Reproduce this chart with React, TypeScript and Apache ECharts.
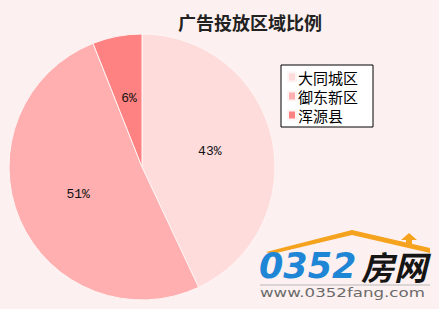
import React, { useEffect, useRef } from "react";
import * as echarts from "echarts";

const title = "广告投放区域比例";
const regions = ["大同城区", "御东新区", "浑源县"];
const shares = [43, 51, 6];
const sliceColors = ["#FFDCDC", "#FFAFAF", "#FF8282"];
const siteUrl = "www.0352fang.com";

export default function App() {
  const ref = useRef<HTMLDivElement>(null);

  useEffect(() => {
    document.body.style.margin = "0";
    const chart = echarts.init(ref.current!, null, { renderer: "svg" });

    chart.setOption({
      animation: false,
      backgroundColor: "#FDF0F0",
      title: {
        text: title,
        left: 245,
        top: 8,
        textAlign: "center",
        textStyle: {
          fontFamily: "Noto Sans CJK SC",
          fontSize: 18,
          fontWeight: "bold",
          color: "#222",
        },
      },
      legend: {
        orient: "vertical",
        left: 281,
        top: 65,
        padding: [4, 15, 4, 6],
        itemGap: 3,
        itemWidth: 8,
        itemHeight: 9,
        icon: "rect",
        backgroundColor: "#ffffff",
        borderColor: "#000000",
        borderWidth: 1,
        borderRadius: 0,
        data: regions,
        textStyle: {
          fontFamily: "Noto Sans CJK SC",
          fontSize: 15,
          lineHeight: 16,
          color: "#000",
          padding: [0, 0, 0, -3],
        },
      },
      series: [
        {
          type: "pie",
          center: [142, 167],
          radius: [0, 133],
          startAngle: 90,
          clockwise: true,
          color: sliceColors,
          itemStyle: { borderColor: "#FFF4F4", borderWidth: 1 },
          label: {
            show: true,
            position: "inner",
            formatter: "{c}%",
            fontFamily: "Liberation Mono",
            fontSize: 13,
            color: "#111",
          },
          labelLine: { show: false },
          emphasis: { disabled: true },
          data: regions.map((name, i) => ({ name, value: shares[i] })),
        },
      ],
      graphic: [
        {
          type: "polygon",
          shape: {
            points: [
              [266, 252],
              [352, 230],
              [430, 248],
              [430, 253],
              [352, 235],
              [272, 254],
            ],
          },
          style: { fill: "#F5A21E" },
        },
        {
          type: "polygon",
          shape: {
            points: [
              [401, 240],
              [409, 233],
              [417, 240],
              [412, 240],
              [412, 245],
              [406, 245],
              [406, 240],
            ],
          },
          style: { fill: "#F5A21E" },
        },
        {
          type: "text",
          x: 259,
          y: 248,
          style: {
            text: "0352",
            fontFamily: "DejaVu Sans",
            fontSize: 35,
            fontWeight: "bold",
            fontStyle: "italic",
            fill: "#1F86D6",
          },
        },
        {
          type: "text",
          x: 361,
          y: 249,
          style: {
            text: "房网",
            fontFamily: "Noto Sans CJK SC",
            fontSize: 33,
            fontWeight: "bold",
            fontStyle: "italic",
            fill: "#151515",
          },
        },
        {
          type: "line",
          shape: { x1: 260, y1: 285, x2: 430, y2: 285 },
          style: { stroke: "#B8B8B8", lineWidth: 1 },
        },
        {
          type: "text",
          x: 260,
          y: 286,
          scaleX: 1.28,
          style: {
            text: siteUrl,
            fontFamily: "DejaVu Sans",
            fontSize: 13,
            fill: "#6A6A6A",
          },
        },
      ],
    });
    return () => chart.dispose();
  }, []);

  return (
    <div
      ref={ref}
      style={{ position: "fixed", left: 0, top: 0, width: 439, height: 309 }}
    />
  );
}
